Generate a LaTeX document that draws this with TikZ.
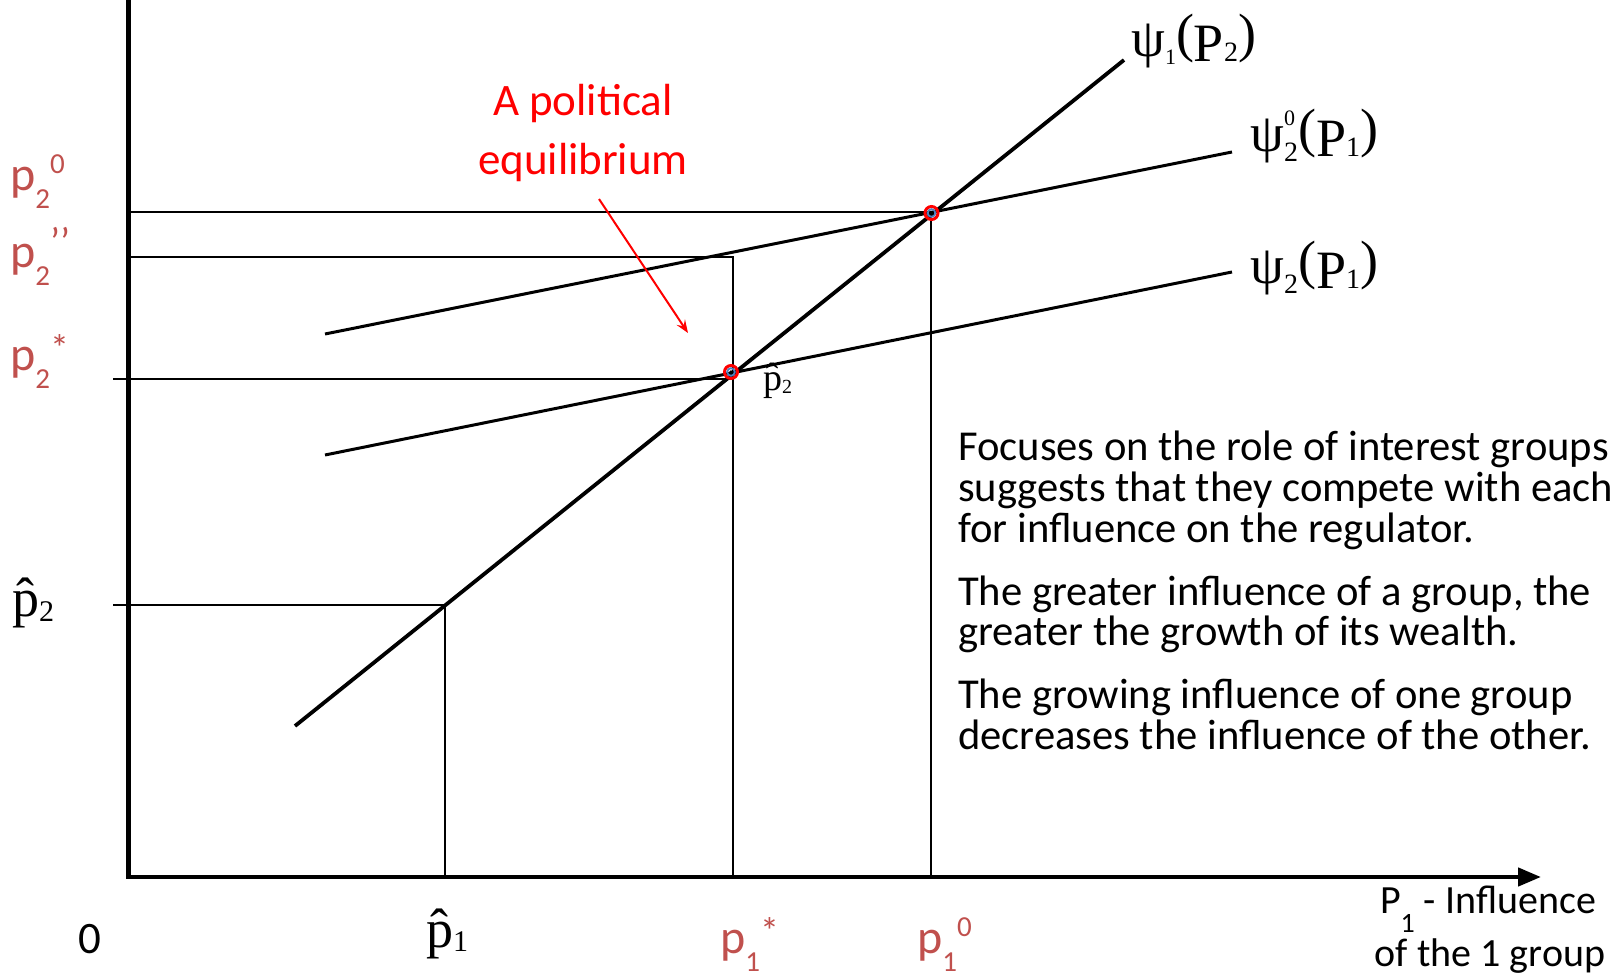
\documentclass[tikz,border=0pt]{standalone}
\usepackage{fontspec}
\setmainfont{Carlito}
\newfontfamily\tnr{Liberation Serif}
\usetikzlibrary{arrows.meta}
\definecolor{labred}{RGB}{192,80,77}
\definecolor{ringblue}{RGB}{79,129,189}
\newcommand\fs[1]{\fontsize{#1}{#1}\selectfont}
\newcommand\redp[2]{\fs{48}p\raisebox{-18pt}{\fs{29}#1}\raisebox{17pt}{\fs{29}#2}}
\newcommand\redstar[1]{\fs{48}p\raisebox{-18pt}{\fs{29}#1}\raisebox{9pt}{\fs{38}*}}
\newcommand\redpp[1]{\fs{48}p\raisebox{-18pt}{\fs{29}#1}\raisebox{12pt}{\fs{40}’’}}
\begin{document}
\begin{tikzpicture}[x=1pt,y=-1pt,line join=miter,
  axis/.style={line width=4.5pt},
  guide/.style={line width=1.8pt},
  curve/.style={line width=3pt},
  lab/.style={inner sep=0pt,anchor=base west},
  redlab/.style={lab,text=labred},
  body/.style={lab,font=\fs{42.6}}]
\useasboundingbox (0,0) rectangle (1614,979);
% axes
\coordinate (ytop) at (128.7,-5);
\coordinate (O) at (128.7,877);
\coordinate (xend) at (1541,877);
\draw[axis,-{Triangle[length=23pt,width=18pt]}] (ytop) -- (O) -- (xend);
% guide lines
\coordinate (a0) at (128.7,212); \coordinate (c0) at (931,212); \coordinate (b0) at (931,877);
\coordinate (a1) at (128.7,257); \coordinate (c1) at (733,257); \coordinate (b1) at (733,877);
\coordinate (a2) at (113,379);   \coordinate (c2) at (731,379);
\coordinate (a3) at (113,605);   \coordinate (c3) at (445,605); \coordinate (b3) at (445,877);
\draw[guide] (a0) -- (c0) -- (b0);
\draw[guide] (a1) -- (c1) -- (b1);
\draw[guide] (a2) -- (c2);
\draw[guide] (a3) -- (c3) -- (b3);
% curves
\coordinate (s1) at (295,726); \coordinate (e1) at (1124,60);
\coordinate (s2) at (325,334); \coordinate (e2) at (1232,152);
\coordinate (s3) at (325,455); \coordinate (e3) at (1232,272);
\draw[curve,line width=3.8pt] (s1) -- (e1);
\draw[curve] (s2) -- (e2);
\draw[curve] (s3) -- (e3);
% equilibrium markers
\coordinate (E0) at (931.5,213);
\coordinate (Es) at (731,372);
\foreach \p in {E0,Es}{
  \draw[red,line width=3pt] (\p) circle[radius=6.5pt];
  \draw[ringblue,line width=1.8pt] (\p) circle[radius=3.8pt];
  \fill (\p) circle[radius=1.8pt];
}
% annotation
\node[inner sep=0pt,anchor=base,text=red,font=\fs{45}] (t1) at (583,116) {A political};
\node[inner sep=0pt,anchor=base,text=red,font=\fs{45}] (t2) at (583,175) {equilibrium};
\coordinate (arrs) at (599,199);
\coordinate (arre) at (688,333);
\draw[red,line width=2pt,-{Stealth[length=13pt,width=10pt,inset=5pt]}] (arrs) -- (arre);
% curve labels
\node[lab] (psi1) at (1131,62) {\tnr\fs{54}\raisebox{5pt}{ψ}\raisebox{-3pt}{\fs{22}1}\raisebox{10pt}{(}P{\fs{28}2}\raisebox{10pt}{)}};
\node[lab] (psi20) at (1250,157) {\tnr\fs{54}\raisebox{5pt}{ψ}\rlap{\raisebox{32pt}{\fs{22}0}}\raisebox{-5pt}{\fs{28}2}\raisebox{10pt}{(}P{\fs{28}1}\raisebox{10pt}{)}};
\node[lab] (psi2) at (1250,288) {\tnr\fs{54}\raisebox{5pt}{ψ}\raisebox{-5pt}{\fs{28}2}\raisebox{10pt}{(}P{\fs{28}1}\raisebox{10pt}{)}};
% axis labels left
\node[redlab] (p20) at (10,190) {\redp{2}{0}};
\node[redlab] (p2pp) at (10,267) {\redpp{2}};
\node[redlab] (p2s) at (10,370) {\redstar{2}};
\node[lab] (ph2) at (12,616) {\tnr\fs{54}\^{p}\raisebox{-5pt}{\fs{30}2}};
\node[lab] (ph2s) at (763,390) {\tnr\fs{38}\^{p}\raisebox{-3pt}{\fs{20}2}};
% axis labels bottom
\node[inner sep=0pt,anchor=base,font=\fs{45}] (zero) at (90,953) {0};
\node[lab] (ph1) at (426,947) {\tnr\fs{54}\^{p}\raisebox{-4pt}{\fs{30}1}};
\node[redlab] (p1s) at (720,953) {\redstar{1}};
\node[redlab] (p10) at (917,953) {\redp{1}{0}};
\node[inner sep=0pt,anchor=base,font=\fs{40}] (xl1) at (1488,913) {P\raisebox{-19pt}{\fs{28}1} - Influence};
\node[inner sep=0pt,anchor=base,font=\fs{40}] (xl2) at (1490,966) {of the 1 group};
% body text
\node[body] (l1) at (958,460) {Focuses on the role of interest groups};
\node[body] (l2) at (958,501) {suggests that they compete with each};
\node[body] (l3) at (958,542) {for influence on the regulator.};
\node[body] (l4) at (958,605) {The greater influence of a group, the};
\node[body] (l5) at (958,645) {greater the growth of its wealth.};
\node[body] (l6) at (958,708) {The growing influence of one group};
\node[body] (l7) at (958,749) {decreases the influence of the other.};
\end{tikzpicture}
\end{document}
